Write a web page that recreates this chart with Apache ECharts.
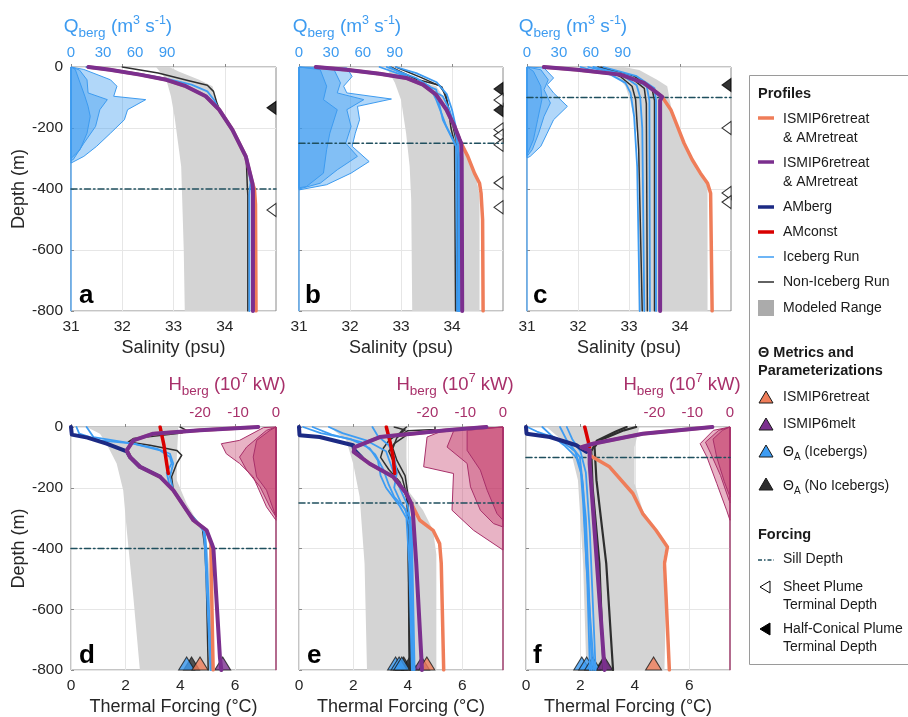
<!DOCTYPE html>
<html><head><meta charset="utf-8">
<script src="https://cdn.jsdelivr.net/npm/echarts@6/dist/echarts.min.js"></script>
<style>html,body{margin:0;padding:0;background:#fff}#c{width:908px;height:717px}</style>
</head><body><div id="c"></div>
<script>
// ---------------- DATA ----------------
const salTicks = [31, 32, 33, 34];
const tfTicks = [0, 2, 4, 6];
const qTicks = [0, 30, 60, 90];
const hTicks = [-20, -10, 0];
const depthTicks = [0, -200, -400, -600, -800];
const panelLetters = ['a', 'b', 'c', 'd', 'e', 'f'];
const sillDepth = [-400, -250, -100];
const halfConical = [[-134], [-72, -141], [-59]];
const sheetPlume = [[-469], [-108, -205, -225, -255, -380, -460], [-200, -413, -443]];

// Panel a (salinity)
const a_gray_left = [[32.66,0],[32.86,-42],[32.95,-96],[33.02,-162],[33.08,-238],[33.15,-326],[33.17,-435],[33.2,-600],[33.22,-800]];
const a_gray_right = [[34.5,-800],[34.5,-420],[34.47,-370],[34.41,-282],[34.15,-195],[33.86,-120],[33.76,-63],[33.5,-42],[33.1,-15],[32.92,0]];
const a_q1 = [[0,0],[12,-8],[37,-42],[43,-63],[40,-96],[70,-107],[53,-140],[50,-173],[37,-217],[24,-260],[12,-293],[0,-315]];
const a_q2 = [[0,0],[8,-10],[15,-42],[16,-85],[34,-107],[27,-140],[23,-195],[12,-250],[2,-304],[0,-306]];
const a_q3 = [[0,0],[4,-8],[8.5,-52],[13,-96],[16,-129],[18,-162],[15,-217],[8.5,-271],[0,-300]];
const a_black = [[[32.0,0],[32.7,-20],[33.3,-45],[33.66,-60],[33.78,-80],[33.85,-120],[33.92,-150],[34.16,-210],[34.42,-300],[34.44,-390],[34.45,-420],[34.45,-800]]];
const a_blue = [[[31.3,0],[31.8,-9],[32.4,-24],[32.9,-40],[33.35,-58],[33.66,-80],[33.8,-110],[33.92,-150],[34.16,-210],[34.44,-300],[34.5,-380],[34.48,-420],[34.48,-800]]];
const a_orange = [[31.34,0],[31.76,-9],[32.34,-25],[32.86,-42],[33.24,-63],[33.63,-96],[33.89,-140],[34.15,-206],[34.41,-293],[34.54,-381],[34.58,-400],[34.6,-450],[34.61,-800]];
const a_purple = [[31.34,0],[31.76,-9],[32.34,-25],[32.86,-42],[33.24,-63],[33.63,-96],[33.89,-140],[34.15,-206],[34.41,-293],[34.54,-381],[34.55,-400],[34.55,-800]];

// Panel b
const b_gray_left = [[32.71,0],[32.88,-52],[33.0,-107],[33.1,-217],[33.17,-326],[33.2,-435],[33.22,-800]];
const b_gray_right = [[34.54,-800],[34.54,-420],[34.47,-359],[34.28,-282],[34.15,-238],[34.0,-170],[33.88,-110],[33.69,-63],[33.24,-42],[32.85,0]];
const b_q1 = [[0,0],[45,-3],[50,-31],[42,-63],[45,-85],[87,-105],[55,-129],[57,-173],[53,-217],[50,-260],[66,-310],[49,-348],[26,-386],[0,-403]];
const b_q2 = [[0,0],[33,-9],[39,-52],[36,-85],[61,-107],[45,-140],[49,-195],[44,-250],[55,-293],[36,-337],[20,-381],[0,-400]];
const b_q3 = [[0,0],[20,-9],[26,-63],[23,-107],[36,-140],[29,-217],[26,-271],[23,-348],[7,-392],[0,-396]];
const b_black = [
  [[32.8,0],[33.3,-40],[33.75,-60],[33.88,-90],[33.92,-130],[33.98,-200],[34.05,-250],[34.07,-800]],
  [[32.9,0],[33.4,-35],[33.8,-65],[33.9,-110],[34.0,-180],[34.08,-240],[34.1,-300],[34.1,-800]]
];
const b_blue = [
  [[32.78,0],[33.24,-42],[33.69,-74],[33.76,-129],[33.82,-173],[33.95,-217],[34.08,-260],[34.1,-800]],
  [[32.72,0],[33.3,-36],[33.56,-63],[33.69,-107],[33.79,-151],[33.89,-195],[34.02,-238],[34.13,-282],[34.13,-800]],
  [[32.58,0],[33.1,-31],[33.82,-96],[33.95,-140],[34.05,-195],[34.1,-250],[34.15,-300],[34.15,-800]],
  [[32.9,0],[33.3,-20],[33.7,-50],[33.9,-90],[34.0,-140],[34.08,-200],[34.12,-260],[34.14,-800]]
];
const b_orange = [[31.33,0],[31.93,-9],[32.58,-22],[33.1,-36],[33.43,-58],[33.69,-91],[33.89,-140],[34.05,-195],[34.15,-238],[34.18,-250],[34.31,-293],[34.44,-348],[34.54,-381],[34.57,-414],[34.6,-500],[34.61,-800]];
const b_purple = [[31.33,0],[31.93,-9],[32.58,-22],[33.1,-36],[33.43,-58],[33.69,-91],[33.89,-140],[34.05,-195],[34.15,-238],[34.18,-250],[34.19,-300],[34.2,-800]];

// Panel c
const c_gray_left = [[32.37,0],[32.6,-20],[32.83,-42],[32.93,-63],[33.02,-107],[33.16,-217],[33.19,-400],[33.19,-800]];
const c_gray_right = [[34.54,-800],[34.54,-400],[34.5,-370],[34.34,-326],[34.08,-260],[33.88,-173],[33.8,-110],[33.75,-63],[33.55,-42],[33.2,-10],[32.9,0]];
const c_q1 = [[0,0],[16,-3],[25,-36],[19,-58],[25,-85],[38,-129],[25,-173],[19,-217],[13,-260],[3,-293],[0,-298]];
const c_q2 = [[0,0],[13,-9],[20,-42],[16,-74],[22,-118],[16,-162],[11,-217],[5,-271],[0,-293]];
const c_q3 = [[0,0],[6,-14],[13,-63],[14,-107],[10,-173],[6,-239],[0,-288]];
const c_black = [
  [[32.38,0],[32.83,-31],[33.06,-63],[33.13,-107],[33.19,-271],[33.26,-800]],
  [[32.4,0],[33.0,-30],[33.3,-70],[33.34,-120],[33.36,-800]],
  [[32.45,0],[33.1,-30],[33.45,-70],[33.5,-110],[33.5,-800]]
];
const c_blue = [
  [[32.05,0],[32.64,-25],[32.93,-52],[33.03,-85],[33.1,-162],[33.16,-326],[33.21,-800]],
  [[32.2,0],[32.9,-30],[33.15,-60],[33.22,-100],[33.26,-200],[33.3,-800]],
  [[32.3,0],[33.0,-28],[33.35,-65],[33.4,-110],[33.41,-800]],
  [[32.5,0],[33.15,-30],[33.5,-70],[33.53,-110],[33.53,-800]]
];
const c_orange = [[31.33,0],[31.98,-9],[32.83,-25],[33.29,-52],[33.55,-85],[33.65,-98],[33.82,-140],[33.95,-195],[34.08,-250],[34.24,-304],[34.4,-348],[34.54,-381],[34.6,-414],[34.63,-800]];
const c_purple = [[31.33,0],[31.98,-9],[32.83,-25],[33.29,-52],[33.55,-85],[33.65,-98],[33.61,-110],[33.61,-800]];

// Panel d (thermal forcing)
const d_gray_left = [[0.57,0],[1.06,-22],[1.3,-55],[1.67,-120],[1.91,-208],[2.04,-340],[2.28,-559],[2.52,-800]];
const d_gray_right = [[5.15,-800],[5.1,-500],[4.96,-370],[4.6,-307],[4.23,-252],[3.87,-175],[3.87,-100],[3.93,0]];
const d_h1 = [[0,0],[-3.3,-2],[-9.6,-44],[-14.4,-55],[-13.1,-88],[-9.6,-120],[-6,-164],[-2.5,-263],[0,-307]];
const d_h2 = [[0,0],[-2.5,-11],[-7.75,-66],[-9.6,-99],[-7.75,-142],[-4.2,-197],[-1.6,-263],[0,-296]];
const d_h3 = [[0,0],[-1.6,-11],[-5.1,-44],[-6,-99],[-5.1,-164],[-2.5,-208],[0,-296]];
const d_black = [[[3.99,0],[4.23,-11],[4.05,-20],[2.28,-38],[2.1,-49],[2.89,-60],[3.87,-77],[4.05,-93],[3.87,-120],[3.68,-164],[3.74,-208],[4.2,-274],[4.5,-300],[4.8,-330],[4.9,-400],[4.95,-500],[5.02,-800]]];
const d_blue = [
  [[0.2,0],[0.3,-22],[1.06,-44],[2.28,-55],[3.26,-77],[3.62,-99],[3.68,-120],[3.5,-150],[3.6,-190],[3.8,-220],[4.25,-275],[4.6,-310],[4.9,-350],[4.95,-400],[5.05,-600],[5.15,-800]],
  [[0.57,0],[0.82,-33],[2.28,-55],[3.13,-71],[3.62,-88],[3.74,-120],[3.62,-164],[3.74,-208],[4.22,-274],[4.5,-305],[4.85,-340],[4.9,-400],[5.0,-600],[5.1,-800]]
];
const d_navy = [[0,0],[0.03,-25],[0.6,-35],[1.3,-55],[2.04,-80],[2.16,-99],[2.52,-131],[3.26,-164]];
const d_red = [[3.26,0],[3.4,-60],[3.5,-120],[3.56,-153]];
const d_orange = [[6.85,0],[4.72,-11],[3.01,-22],[2.28,-44],[2.04,-77],[2.16,-99],[2.52,-131],[3.26,-164],[3.74,-208],[4.23,-274],[4.48,-307],[4.96,-340],[5.12,-384],[5.12,-420],[5.2,-800]];
const d_purple = [[6.85,0],[4.72,-11],[3.01,-22],[2.28,-44],[2.04,-77],[2.16,-99],[2.52,-131],[3.26,-164],[3.74,-208],[4.23,-274],[4.48,-307],[4.96,-340],[5.15,-384],[5.21,-400],[5.45,-760],[5.5,-800]];

// Panel e
const e_gray_left = [[1.13,0],[1.74,-44],[1.99,-120],[2.23,-230],[2.41,-449],[2.5,-800]];
const e_gray_right = [[5.05,-800],[5.05,-420],[4.93,-340],[4.56,-274],[4.0,-208],[3.95,-100],[3.95,-50],[4.0,0]];
const e_h1 = [[0,0],[-15.7,-11],[-20.1,-33],[-21,-131],[-13.1,-153],[-13.5,-274],[-7.8,-340],[0,-405]];
const e_h2 = [[0,0],[-13,-11],[-14.8,-66],[-9.5,-120],[-8.6,-197],[-6,-274],[-2.5,-318],[0,-329]];
const e_h3 = [[0,0],[-9.5,-11],[-9.5,-77],[-6,-142],[-4.2,-208],[-1.6,-285],[0,-307]];
const e_black = [
  [[3.5,0],[3.9,-10],[3.6,-25],[3.3,-45],[3.1,-70],[3.0,-100],[3.3,-140],[3.7,-180],[3.95,-230],[4.05,-300],[4.1,-800]],
  [[3.95,0],[3.75,-15],[3.9,-30],[3.5,-55],[3.3,-80],[3.5,-120],[3.8,-170],[3.95,-220],[4.0,-300],[4.08,-800]],
  [[5.0,0],[5.0,-8],[4.0,-12],[3.6,-35],[3.45,-70],[3.6,-110],[3.9,-160],[4.0,-220],[4.05,-800]]
];
const e_blue = [
  [[0.15,0],[0.8,-20],[1.9,-40],[2.6,-70],[2.9,-110],[3.0,-160],[3.2,-200],[3.7,-260],[3.95,-300],[4.05,-450],[4.15,-800]],
  [[0.5,0],[1.2,-25],[2.3,-50],[2.8,-90],[3.1,-140],[3.3,-190],[3.5,-230],[3.9,-270],[4.05,-320],[4.2,-800]],
  [[1.1,0],[1.6,-20],[2.5,-45],[3.2,-80],[3.4,-130],[3.6,-180],[3.8,-220],[4.0,-260],[4.15,-350],[4.25,-800]],
  [[2.7,0],[2.9,-30],[3.3,-60],[3.5,-100],[3.6,-150],[3.5,-200],[3.75,-250],[4.1,-300],[4.2,-800]]
];
const e_navy = [[0,0],[0.02,-27],[0.76,-33],[1.99,-60],[2.03,-75],[2.3,-100]];
const e_red = [[3.21,0],[3.35,-50],[3.46,-99],[3.52,-153]];
const e_orange = [[6.89,0],[5.42,-11],[2.97,-33],[2.05,-66],[2.01,-82],[2.6,-121],[3.46,-164],[3.95,-219],[4.13,-252],[4.44,-307],[4.93,-340],[5.17,-384],[5.23,-449],[5.32,-800]];
const e_purple = [[6.89,0],[5.42,-11],[2.97,-33],[2.05,-66],[2.01,-82],[2.6,-121],[3.46,-164],[3.95,-219],[4.13,-252],[4.19,-285],[4.31,-449],[4.5,-762],[4.52,-800]];

// Panel f
const f_gray_left = [[0.76,0],[1.61,-66],[1.91,-175],[2.1,-449],[2.22,-800]];
const f_gray_right = [[5.09,-800],[5.15,-559],[5.02,-449],[5.15,-395],[4.78,-340],[4.29,-274],[3.99,-186],[3.99,-66],[4.17,0]];
const f_h1 = [[0,0],[-4.4,-11],[-7.9,-55],[-6.1,-99],[-3.5,-186],[-0.9,-274],[0,-307]];
const f_h2 = [[0,0],[-3,-11],[-6.5,-50],[-5,-90],[-2.5,-160],[0,-250]];
const f_h3 = [[0,0],[-2,-11],[-4.5,-40],[-3.5,-100],[-1.5,-180],[0,-230]];
const f_black = [
  [[4.05,0],[3.6,-11],[2.7,-44],[2.52,-66],[2.59,-175],[2.95,-449],[3.2,-800]],
  [[3.7,0],[3.3,-15],[2.6,-45],[2.4,-80],[2.45,-200],[2.7,-450],[2.85,-800]]
];
const f_blue = [
  [[0.05,0],[0.4,-15],[1.2,-40],[1.8,-80],[2.0,-130],[2.1,-250],[2.25,-500],[2.35,-800]],
  [[0.6,0],[0.9,-25],[1.4,-60],[1.85,-100],[2.05,-160],[2.2,-300],[2.3,-500],[2.42,-800]],
  [[1.25,0],[1.5,-44],[1.98,-99],[2.1,-197],[2.22,-449],[2.5,-800]],
  [[1.5,0],[1.7,-40],[2.0,-80],[2.2,-150],[2.35,-350],[2.56,-800]]
];
const f_navy = [[0,0],[0.02,-22],[0.88,-33],[1.85,-60],[2.22,-82]];
const f_red = [[2.16,0],[2.28,-44],[2.34,-66]];
const f_orange = [[6.85,0],[4.29,-22],[2.46,-55],[2.04,-66],[2.34,-77],[2.34,-93],[3.07,-131],[3.93,-219],[4.29,-285],[4.78,-340],[5.2,-395],[5.09,-449],[5.15,-559],[5.27,-800]];
const f_purple = [[6.85,0],[4.29,-22],[2.46,-55],[2.04,-66],[2.34,-77],[2.34,-121],[2.52,-340],[2.89,-800]];

// Theta metrics (thermal forcing at -800 m row)
const thetaBlue = [[4.23], [3.55, 3.68, 3.78], [2.05, 2.23, 2.45]];
const thetaBlack = [[4.41], [3.85, 4.07], [2.85]];
const thetaPurple = [[5.55], [4.51], [2.89]];
const thetaOrange = [[4.72], [4.70], [4.69]];

// ---------------- STYLE ----------------
const FONT = '"Liberation Sans", Arial, Helvetica, sans-serif';
const C = {orange:'#ef7d59', purple:'#7b2f8e', navy:'#1c2a84', red:'#d90000', blue:'#3d9cf3', black:'#2e2e2e',
  gray:'#d4d4d4', sill:'#1f4f5e', q:'#3d9bf0', qFill:'rgba(61,155,240,0.40)', h:'#a8306a', hFill:'rgba(190,45,95,0.36)', hEdge:'#a8306a'};
const GRIDS = [
  {left:71, top:67, width:205, height:244},
  {left:299, top:67, width:204, height:244},
  {left:527, top:67, width:204, height:244},
  {left:71, top:427, width:205, height:243},
  {left:299, top:427, width:204, height:243},
  {left:526, top:427, width:204, height:243}
];

const chart = echarts.init(document.getElementById('c'), null, {renderer:'canvas'});
const grid = GRIDS.map(g => Object.assign({}, g, {show:true, borderColor:'#8a8a8a', borderWidth:1}));
const xAxis = [], yAxis = [], series = [];

GRIDS.forEach((g, i) => {
  const top = i < 3;
  xAxis.push({
    gridIndex:i, type:'value', position:'bottom',
    min: top ? 31 : 0, max: top ? 35 : 7.5,
    axisLine:{show:false},
    axisTick:{show:true, inside:true, length:3, lineStyle:{color:'#8a8a8a'}, customValues: top ? salTicks : tfTicks},
    splitLine:{show:true, lineStyle:{color:'#e6e6e6', width:1}},
    axisLabel:{customValues: top ? salTicks : tfTicks, fontSize:15.5, color:'#262626', margin:8, fontFamily:FONT},
    name: top ? 'Salinity (psu)' : 'Thermal Forcing (°C)', nameLocation:'middle', nameGap:28,
    nameTextStyle:{fontSize:18, color:'#262626', fontFamily:FONT}
  });
  xAxis.push({
    gridIndex:i, type:'value', position:'top',
    min: top ? 0 : -54, max: top ? 192 : 0,
    axisLine:{show:false}, axisTick:{show:false}, splitLine:{show:false},
    axisLabel:{customValues: top ? qTicks : hTicks, fontSize:15, color: top ? C.q : C.h, margin:7, fontFamily:FONT}
  });
  const showY = (i === 0 || i === 3);
  yAxis.push({
    gridIndex:i, type:'value', min:-800, max:0,
    axisLine:{show:false},
    axisTick:{show:true, inside:true, length:3, lineStyle:{color:'#8a8a8a'}, customValues: depthTicks},
    splitLine:{show:true, lineStyle:{color:'#e6e6e6'}},
    axisLabel:{show:showY, customValues: depthTicks, fontSize:15.5, color:'#262626', margin:8, fontFamily:FONT},
    name: showY ? 'Depth (m)' : '', nameLocation:'middle', nameGap:42, nameRotate:90,
    nameTextStyle:{fontSize:18, color:'#262626', fontFamily:FONT}
  });
});

function poly(i, sec, pts, fill, stroke, lw) {
  return {type:'custom', xAxisIndex: 2*i + (sec ? 1 : 0), yAxisIndex:i, data:[pts[0]], silent:true, animation:false,
    renderItem:(p, api) => ({type:'polygon', shape:{points: pts.map(q => api.coord(q))},
      style:{fill: fill, stroke: stroke || 'none', lineWidth: lw || 0}})};
}
function line(i, sec, data, color, width, type) {
  return {type:'line', xAxisIndex: 2*i + (sec ? 1 : 0), yAxisIndex:i, data:data, showSymbol:false, symbol:'none',
    silent:true, animation:false, lineStyle:{color:color, width:width, type: type || 'solid', cap:'round', join:'round'}};
}
function tri(i, xs, color) {
  return {type:'scatter', xAxisIndex:2*i, yAxisIndex:i, data: xs.map(x => [x, -800]), symbol:'triangle',
    symbolSize:[16, 13], symbolOffset:[0, -6.5], clip:false, silent:true, animation:false,
    itemStyle:{color:color, borderColor:'#1a1a1a', borderWidth:1}};
}

const P = [
  {gl:a_gray_left, gr:a_gray_right, fills:[a_q1,a_q2,a_q3], black:a_black, blue:a_blue, navy:null, red:null, orange:a_orange, purple:a_purple},
  {gl:b_gray_left, gr:b_gray_right, fills:[b_q1,b_q2,b_q3], black:b_black, blue:b_blue, navy:null, red:null, orange:b_orange, purple:b_purple},
  {gl:c_gray_left, gr:c_gray_right, fills:[c_q1,c_q2,c_q3], black:c_black, blue:c_blue, navy:null, red:null, orange:c_orange, purple:c_purple},
  {gl:d_gray_left, gr:d_gray_right, fills:[d_h1,d_h2,d_h3], black:d_black, blue:d_blue, navy:d_navy, red:d_red, orange:d_orange, purple:d_purple},
  {gl:e_gray_left, gr:e_gray_right, fills:[e_h1,e_h2,e_h3], black:e_black, blue:e_blue, navy:e_navy, red:e_red, orange:e_orange, purple:e_purple},
  {gl:f_gray_left, gr:f_gray_right, fills:[f_h1,f_h2,f_h3], black:f_black, blue:f_blue, navy:f_navy, red:f_red, orange:f_orange, purple:f_purple}
];

P.forEach((p, i) => {
  const top = i < 3;
  series.push(poly(i, false, p.gl.concat(p.gr), C.gray));
  p.fills.forEach(f => series.push(poly(i, true, f, top ? C.qFill : C.hFill, top ? C.q : C.hEdge, 1)));
  series.push(line(i, true, [[0, 0], [0, -800]], top ? C.q : C.h, 1.2));
  const sd = sillDepth[i % 3];
  series.push(line(i, false, top ? [[31, sd], [35, sd]] : [[0, sd], [7.5, sd]], C.sill, 1.5, [6, 3, 1.5, 3]));
  p.black.forEach(d => series.push(line(i, false, d, C.black, i === 5 ? 2.2 : 1.5)));
  p.blue.forEach(d => series.push(line(i, false, d, C.blue, 1.8)));
  if (p.navy) series.push(line(i, false, p.navy, C.navy, 4));
  if (p.red) series.push(line(i, false, p.red, C.red, 3.5));
  series.push(line(i, false, p.orange, C.orange, 3.5));
  series.push(line(i, false, p.purple, C.purple, 4));
  if (top) {
    series.push({type:'scatter', xAxisIndex:2*i, yAxisIndex:i, data: halfConical[i].map(d => [34.912, d]),
      symbol:'triangle', symbolRotate:90, symbolSize:[13, 9], clip:false, silent:true, animation:false,
      itemStyle:{color:'#000', borderColor:'#000', borderWidth:1}});
    series.push({type:'scatter', xAxisIndex:2*i, yAxisIndex:i, data: sheetPlume[i].map(d => [34.912, d]),
      symbol:'triangle', symbolRotate:90, symbolSize:[13, 9], clip:false, silent:true, animation:false,
      itemStyle:{color:'#fff', borderColor:'#000', borderWidth:1}});
  } else {
    const k = i - 3;
    series.push(tri(i, thetaBlack[k], '#2e2e2e'));
    series.push(tri(i, thetaBlue[k], C.blue));
    series.push(tri(i, thetaPurple[k], C.purple));
    series.push(tri(i, thetaOrange[k], C.orange));
  }
});

// ---------------- GRAPHIC (titles, letters, legend) ----------------
const G = [];
function txt(x, y, text, o) {
  return {type:'text', x:x, y:y, silent:true, z:100, style:Object.assign({text:text, fill:'#1a1a1a', fontSize:14,
    fontFamily:FONT, verticalAlign:'middle', align:'left'}, o || {})};
}
const qTitleX = [118, 347, 573];
qTitleX.forEach(x => G.push(txt(x, 27, '{m|Q}{s|berg}{m| (m}{p|3}{m| s}{p|-1}{m|)}', {align:'center', rich:{
  m:{fontSize:19, fill:C.q, fontFamily:FONT, lineHeight:26, verticalAlign:'middle'},
  s:{fontSize:13.5, fill:C.q, fontFamily:FONT, lineHeight:12, verticalAlign:'bottom'},
  p:{fontSize:12.5, fill:C.q, fontFamily:FONT, lineHeight:12, verticalAlign:'top'}}})));
const hTitleX = [227, 455, 682];
hTitleX.forEach(x => G.push(txt(x, 385, '{m|H}{s|berg}{m| (10}{p|7}{m| kW)}', {align:'center', rich:{
  m:{fontSize:18.5, fill:C.h, fontFamily:FONT, lineHeight:26, verticalAlign:'middle'},
  s:{fontSize:13.5, fill:C.h, fontFamily:FONT, lineHeight:12, verticalAlign:'bottom'},
  p:{fontSize:12.5, fill:C.h, fontFamily:FONT, lineHeight:12, verticalAlign:'top'}}})));
const letterPos = [[79,296],[305,296],[533,296],[79,656],[307,656],[533,656]];
panelLetters.forEach((l, i) => G.push(txt(letterPos[i][0], letterPos[i][1], l, {fontSize:26, fontWeight:'bold', fill:'#000'})));

// legend box
G.push({type:'rect', shape:{x:749.5, y:75.5, width:180, height:589}, style:{fill:'#fff', stroke:'#9a9a9a', lineWidth:1}, z:90, silent:true});
const LX = 758, TX = 783;
G.push(txt(LX, 94, 'Profiles', {fontWeight:'bold', fontSize:14.5}));
const sw = (y, col, w) => G.push({type:'line', shape:{x1:LX, y1:y, x2:LX+16, y2:y}, style:{stroke:col, lineWidth:w}, z:100, silent:true});
sw(118, C.orange, 3.5); G.push(txt(TX, 119, 'ISMIP6retreat')); G.push(txt(TX, 138, '& AMretreat'));
sw(162, C.purple, 3.5); G.push(txt(TX, 163, 'ISMIP6retreat')); G.push(txt(TX, 182, '& AMretreat'));
sw(207, C.navy, 3.5); G.push(txt(TX, 207, 'AMberg'));
sw(232, C.red, 3.5); G.push(txt(TX, 232, 'AMconst'));
sw(257, C.blue, 1.5); G.push(txt(TX, 257, 'Iceberg Run'));
sw(282, C.black, 1.5); G.push(txt(TX, 282, 'Non-Iceberg Run'));
G.push({type:'rect', shape:{x:LX, y:300, width:16, height:16}, style:{fill:'#ababab'}, z:100, silent:true});
G.push(txt(TX, 308, 'Modeled Range'));
G.push(txt(LX, 353, 'Θ Metrics and', {fontWeight:'bold', fontSize:14.5}));
G.push(txt(LX, 371, 'Parameterizations', {fontWeight:'bold', fontSize:14.5}));
const upTri = (cy, col) => G.push({type:'polygon', shape:{points:[[LX+1, cy+6], [LX+15, cy+6], [LX+8, cy-6]]},
  style:{fill:col, stroke:'#1a1a1a', lineWidth:1}, z:100, silent:true});
upTri(397, C.orange); G.push(txt(TX, 397, 'ISMIP6retreat'));
upTri(424, C.purple); G.push(txt(TX, 424, 'ISMIP6melt'));
upTri(451, C.blue); G.push(txt(TX, 452, '{m|Θ}{s|A}{m| (Icebergs)}', {rich:{
  m:{fontSize:14, fontFamily:FONT, fill:'#1a1a1a', lineHeight:20, verticalAlign:'middle'},
  s:{fontSize:10, fontFamily:FONT, fill:'#1a1a1a', lineHeight:10, verticalAlign:'bottom'}}}));
upTri(484, '#2e2e2e'); G.push(txt(TX, 486, '{m|Θ}{s|A}{m| (No Icebergs)}', {rich:{
  m:{fontSize:14, fontFamily:FONT, fill:'#1a1a1a', lineHeight:20, verticalAlign:'middle'},
  s:{fontSize:10, fontFamily:FONT, fill:'#1a1a1a', lineHeight:10, verticalAlign:'bottom'}}}));
G.push(txt(LX, 535, 'Forcing', {fontWeight:'bold', fontSize:14.5}));
G.push({type:'line', shape:{x1:LX, y1:560, x2:LX+16, y2:560}, style:{stroke:C.sill, lineWidth:1.5, lineDash:[4, 2, 1.5, 2]}, z:100, silent:true});
G.push(txt(TX, 559, 'Sill Depth'));
G.push({type:'polygon', shape:{points:[[LX+2, 587], [LX+12, 581], [LX+12, 593]]}, style:{fill:'#fff', stroke:'#000', lineWidth:1}, z:100, silent:true});
G.push(txt(TX, 587, 'Sheet Plume')); G.push(txt(TX, 605, 'Terminal Depth'));
G.push({type:'polygon', shape:{points:[[LX+2, 629], [LX+12, 623], [LX+12, 635]]}, style:{fill:'#000', stroke:'#000', lineWidth:1}, z:100, silent:true});
G.push(txt(TX, 629, 'Half-Conical Plume')); G.push(txt(TX, 647, 'Terminal Depth'));

chart.setOption({animation:false, backgroundColor:'#fff', textStyle:{fontFamily:FONT},
  grid:grid, xAxis:xAxis, yAxis:yAxis, series:series, graphic:{elements:G}});
</script>
</body></html>
